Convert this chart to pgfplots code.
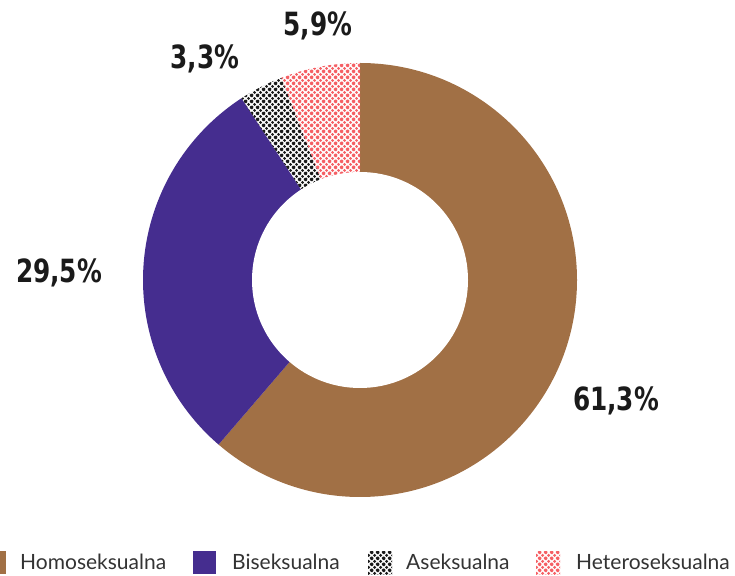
\documentclass[border=0pt]{standalone}
\usepackage{pgfplots}
\pgfplotsset{compat=1.18}
\usepackage{pgfplotstable}
\usetikzlibrary{patterns.meta}
\usepackage{fontspec}
\setmainfont{Lato}
\newfontfamily\labfont{DejaVu Sans Condensed}

\definecolor{brownc}{HTML}{A17045}
\definecolor{purplec}{HTML}{452D8F}
\definecolor{redc}{HTML}{F55F64}
\definecolor{blackc}{HTML}{1A1A1A}
\definecolor{textc}{HTML}{333333}

\tikzdeclarepattern{
  name=bigdots,
  type=uncolored,
  bottom left={(0pt,0pt)},
  top right={(6pt,6pt)},
  tile size={(6pt,6pt)},
  code={
    \fill (0pt,0pt) circle (1.8pt);
    \fill (6pt,0pt) circle (1.8pt);
    \fill (0pt,6pt) circle (1.8pt);
    \fill (6pt,6pt) circle (1.8pt);
    \fill (3pt,3pt) circle (1.8pt);
  }
}

\tikzset{
  s0/.style={fill=brownc},
  s1/.style={fill=purplec},
  s2/.style={pattern=bigdots, pattern color=blackc},
  s3/.style={pattern=bigdots, pattern color=redc},
}

\pgfplotstableread{
value style
61.3 s0
29.5 s1
3.3 s2
5.9 s3
}\piedata

\begin{document}
\begin{tikzpicture}
\begin{axis}[hide axis, x=1pt, y=1pt, xmin=0, xmax=735, ymin=0, ymax=575, scale only axis, clip=false]
\def\cum{0}
\pgfplotsforeachungrouped \i in {0,...,3}{%
  \pgfplotstablegetelem{\i}{value}\of\piedata \let\v\pgfplotsretval
  \pgfplotstablegetelem{\i}{style}\of\piedata \let\s\pgfplotsretval
  \pgfmathsetmacro\aone{90-3.6*\cum}%
  \pgfmathsetmacro\atwo{90-3.6*(\cum+\v)}%
  \pgfmathsetmacro\cum{\cum+\v}%
  \edef\temp{\noexpand\fill[\s] (axis cs:360,295) -- ++(\aone:217pt) arc[start angle=\aone, end angle=\atwo, radius=217pt] -- cycle;}%
  \temp
}
\fill[white] (axis cs:360,295) circle[radius=108pt];

\begin{scope}[every node/.style={font=\labfont\bfseries\fontsize{32}{34}\selectfont, text=blackc, xscale=0.86}]
\node at (axis cs:616,174) {61,3\%};
\node at (axis cs:59,302) {29,5\%};
\node at (axis cs:205,516) {3,3\%};
\node at (axis cs:318,549) {5,9\%};
\end{scope}

% legend
\fill[brownc] (axis cs:-17,1) rectangle (axis cs:6,24);
\fill[purplec] (axis cs:193,1) rectangle (axis cs:216,24);
\fill[pattern=bigdots, pattern color=blackc] (axis cs:368,1) rectangle (axis cs:392,24);
\fill[pattern=bigdots, pattern color=redc] (axis cs:536,1) rectangle (axis cs:560,24);
\begin{scope}[every node/.style={font=\fontsize{21}{24}\selectfont, text=textc, anchor=base west, inner sep=0pt}]
\node at (axis cs:20,6) {Homoseksualna};
\node at (axis cs:232,6) {Biseksualna};
\node at (axis cs:406,6) {Aseksualna};
\node at (axis cs:576,6) {Heteroseksualna};
\end{scope}
\end{axis}
\pgfresetboundingbox
\path[use as bounding box] (current axis.south west) rectangle (current axis.north east);
\end{tikzpicture}
\end{document}
